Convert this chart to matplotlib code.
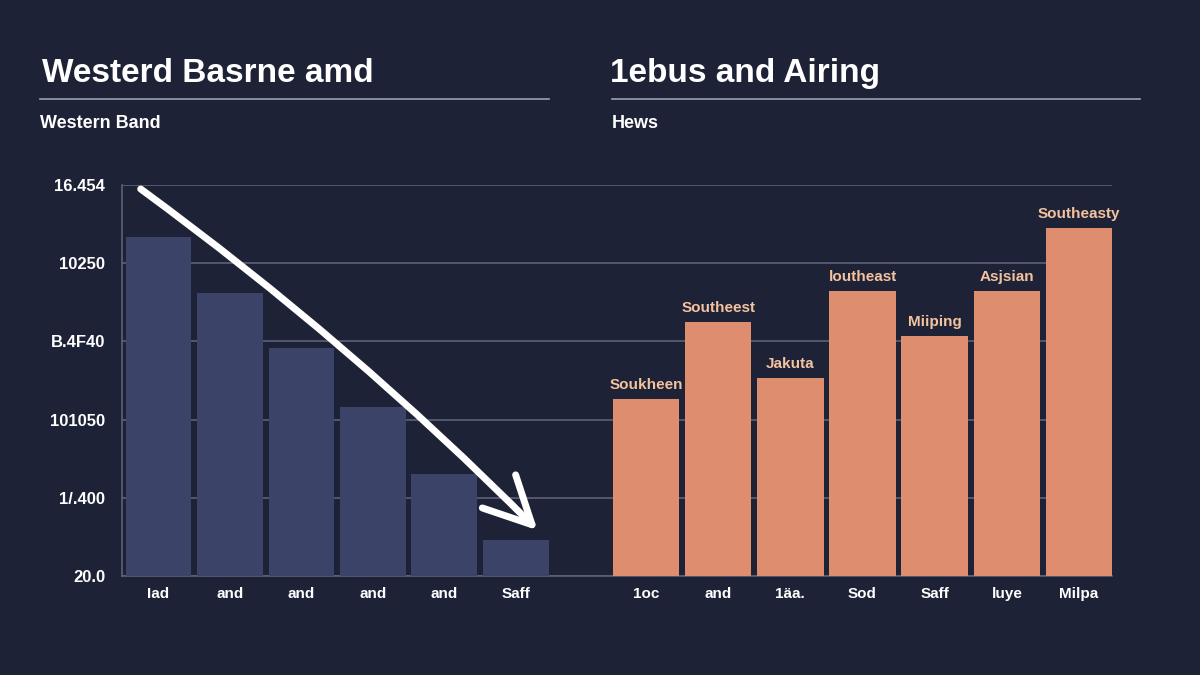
import matplotlib.pyplot as plt
import numpy as np

# data (grid units, 0..5)
left_labels = ['Iad', 'and', 'and', 'and', 'and', 'Saff']
left_values = [4.33, 3.62, 2.92, 2.16, 1.30, 0.46]
right_labels = ['1oc', 'and', '1äa.', 'Sod', 'Saff', 'luye', 'Milpa']
right_values = [2.26, 3.25, 2.53, 3.64, 3.07, 3.64, 4.45]
right_notes = ['Soukheen', 'Southeest', 'Jakuta', 'loutheast', 'Miiping', 'Asjsian', 'Southeasty']
y_ticklabels = ['20.0', '1/.400', '101050', 'B.4F40', '10250', '16.454']

bg = '#1e2236'
left_color = '#3b4468'
right_color = '#de8e6f'
grid_color = '#5c6179'
note_color = '#f3c3a0'

plt.rcParams['font.family'] = ['Liberation Sans', 'DejaVu Sans']

fig = plt.figure(figsize=(12, 6.75), dpi=100, facecolor=bg)
ax = fig.add_axes([122 / 1200, 1 - 576 / 675, 990 / 1200, 391 / 675])
ax.set_facecolor(bg)

left_x = np.arange(len(left_labels))
right_x = np.arange(len(right_labels)) * 1.01 + 6.82

ax.bar(left_x, left_values, width=0.92, color=left_color, zorder=3)
ax.bar(right_x, right_values, width=0.93, color=right_color, zorder=3)

for x, v, s in zip(right_x, right_values, right_notes):
    ax.text(x, v + 0.09, s, ha='center', va='bottom', color=note_color,
            fontsize=11, fontweight='bold')

ax.set_xlim(-0.51, 13.34)
ax.set_ylim(0, 5)
ax.set_yticks(range(6))
ax.set_yticklabels(y_ticklabels)
ax.set_xticks(list(left_x) + list(right_x))
ax.set_xticklabels(left_labels + right_labels)
ax.tick_params(axis='y', length=0, pad=12, colors='white', labelsize=12)
ax.tick_params(axis='x', length=0, pad=8, colors='white', labelsize=11)
for lab in ax.get_xticklabels() + ax.get_yticklabels():
    lab.set_fontweight('bold')

ax.grid(axis='y', color=grid_color, linewidth=1.2, zorder=1)
for side in ['top', 'right']:
    ax.spines[side].set_visible(False)
ax.spines['left'].set_color(grid_color)
ax.spines['bottom'].set_color(grid_color)
ax.spines['left'].set_linewidth(1.2)
ax.spines['bottom'].set_linewidth(1.2)

# trend arrow over the left group
ax.annotate('', xy=(left_x[-1] + 0.33, left_values[-1] + 0.1),
            xytext=(left_x[0] - 0.28, 4.97),
            arrowprops=dict(arrowstyle='->,head_length=1.3,head_width=0.65',
                            mutation_scale=26,
                            color='white', lw=5, capstyle='round',
                            joinstyle='round',
                            connectionstyle='arc3,rad=-0.04'),
            zorder=5)

# headings
fig.text(42 / 1200, 1 - 82 / 675, 'Westerd Basrne amd', color='white',
         fontsize=24, fontweight='bold', va='baseline')
fig.text(610 / 1200, 1 - 82 / 675, '1ebus and Airing', color='white',
         fontsize=24, fontweight='bold', va='baseline')
fig.add_artist(plt.Line2D([40 / 1200, 549 / 1200], [1 - 99 / 675] * 2,
                          color='#9aa0b8', lw=1.2))
fig.add_artist(plt.Line2D([612 / 1200, 1140 / 1200], [1 - 99 / 675] * 2,
                          color='#9aa0b8', lw=1.2))
fig.text(40 / 1200, 1 - 128 / 675, 'Western Band', color='white',
         fontsize=13, fontweight='bold', va='baseline')
fig.text(612 / 1200, 1 - 128 / 675, 'Hews', color='white',
         fontsize=13, fontweight='bold', va='baseline')

fig.savefig('out.png', dpi=100, facecolor=bg)
